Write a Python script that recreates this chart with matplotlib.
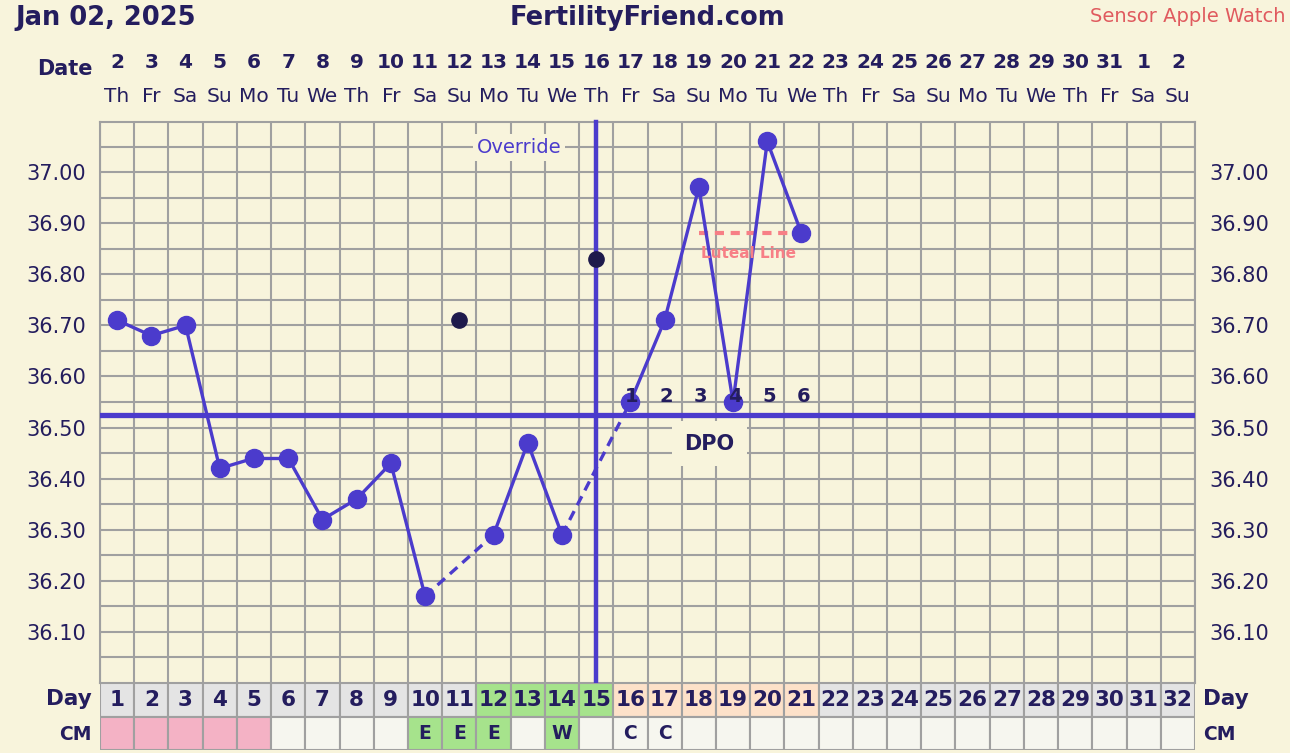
import matplotlib
matplotlib.use("Agg")
import matplotlib.pyplot as plt
from matplotlib.patches import Rectangle
import numpy as np

# ---- data ----
dates = ["2","3","4","5","6","7","8","9","10","11","12","13","14","15","16","17",
         "18","19","20","21","22","23","24","25","26","27","28","29","30","31","1","2"]
weekdays = ["Th","Fr","Sa","Su","Mo","Tu","We","Th","Fr","Sa","Su","Mo","Tu","We","Th","Fr",
            "Sa","Su","Mo","Tu","We","Th","Fr","Sa","Su","Mo","Tu","We","Th","Fr","Sa","Su"]
cycle_days = list(range(1, 33))
temp_days = [1, 2, 3, 4, 5, 6, 7, 8, 9, 10, 12, 13, 14, 16, 17, 18, 19, 20, 21]
temps = [36.71, 36.68, 36.70, 36.42, 36.44, 36.44, 36.32, 36.36, 36.43, 36.17,
         36.29, 36.47, 36.29, 36.55, 36.71, 36.97, 36.55, 37.06, 36.88]
excluded_days = [11, 15]
excluded_temps = [36.71, 36.83]
coverline = 36.525
ovulation_day = 15
luteal_days = [18, 21]
luteal_value = 36.88
dpo_days = [16, 17, 18, 19, 20, 21]
dpo_labels = ["1", "2", "3", "4", "5", "6"]
ytick_vals = [36.10, 36.20, 36.30, 36.40, 36.50, 36.60, 36.70, 36.80, 36.90, 37.00]
day_row_colors = (["#e4e4e4"] * 11 + ["#a6e38c"] * 4 + ["#fde1c9"] * 6 + ["#e4e4e4"] * 11)
cm_colors = (["#f4b2c5"] * 5 + ["#f6f6ef"] * 4 + ["#a6e38c"] * 3 + ["#f6f6ef"] + ["#a6e38c"]
             + ["#f6f6ef"] * 18)
cm_labels = {10: "E", 11: "E", 12: "E", 14: "W", 16: "C", 17: "C"}

# ---- style ----
BG = "#f8f4dc"
NAVY = "#241d5e"
PURPLE = "#4b3bcc"
GRID = "#a0a0a0"
PINK = "#f77f86"

W, H = 1290, 753
fig = plt.figure(figsize=(W / 100, H / 100), dpi=100, facecolor=BG)

def ax_rect(l, t, r, b):
    return [l / W, 1 - b / H, (r - l) / W, (b - t) / H]

ax = fig.add_axes(ax_rect(100, 122, 1195, 683))
ax.set_facecolor(BG)
ax.set_xlim(0.5, 32.5)
ax.set_ylim(36.0, 37.098)

# grid
for x in np.arange(0.5, 33.0, 1.0):
    ax.axvline(x, color=GRID, lw=1.5, zorder=1)
for y in np.arange(36.05, 37.10, 0.05):
    ax.axhline(y, color=GRID, lw=1.5, zorder=1)
for s in ax.spines.values():
    s.set_color(GRID)
    s.set_linewidth(1.5)

ax.set_xticks([])
ax.set_yticks(ytick_vals)
ax.set_yticklabels([f"{v:.2f}" for v in ytick_vals])
ax.tick_params(axis="y", length=0, labelsize=15, labelcolor=NAVY, pad=10,
               labelleft=True, labelright=True)

# coverline & ovulation line
ax.axhline(coverline, color=PURPLE, lw=3.8, zorder=3)
ax.plot([ovulation_day, ovulation_day], [35.985, 37.098], color=PURPLE, lw=3.2, zorder=3,
        clip_on=False)

# temperature line: solid for consecutive days, dashed over gaps
td = np.array(temp_days)
tt = np.array(temps)
for i in range(len(td) - 1):
    ls = "-" if td[i + 1] - td[i] == 1 else (0, (3, 2))
    ax.plot(td[i:i + 2], tt[i:i + 2], color=PURPLE, lw=2.4, ls=ls, zorder=4,
            solid_capstyle="round")
ax.plot(td, tt, "o", color=PURPLE, ms=13, zorder=5)
ax.plot(excluded_days, excluded_temps, "o", color="#1e1a4c", ms=11, zorder=5)

# luteal line
ax.plot(luteal_days, [luteal_value, luteal_value], color=PINK, lw=3, ls=(0, (2.2, 1.6)),
        zorder=3)
ax.text(np.mean(luteal_days) - 0.05, luteal_value - 0.04, "Luteal Line", color=PINK,
        fontsize=11, fontweight="bold", ha="center", va="center", zorder=6)

# DPO numbers
for d, lab in zip(dpo_days, dpo_labels):
    ax.text(d + 0.05, 36.56, lab, color=NAVY, fontsize=14, fontweight="bold",
            ha="center", va="center", zorder=6)
ax.text(18.3, 36.468, "DPO", color=NAVY, fontsize=15, fontweight="bold",
        ha="center", va="center", zorder=6,
        bbox=dict(boxstyle="square,pad=0.6", fc=BG, ec="none"))
ax.text(12.75, 37.048, "Override", color=PURPLE, fontsize=14,
        ha="center", va="center", zorder=6,
        bbox=dict(boxstyle="square,pad=0.2", fc=BG, ec="none"))

# header: dates and weekdays
for i, (d, wd) in enumerate(zip(dates, weekdays)):
    xf = (100 + 34.22 * (i + 0.5)) / W
    fig.text(xf, 1 - 62 / H, d, color=NAVY, fontsize=14.5, fontweight="bold",
             ha="center", va="center")
    fig.text(xf, 1 - 96 / H, wd, color=NAVY, fontsize=14.5, ha="center", va="center")
fig.text(65 / W, 1 - 69 / H, "Date", color=NAVY, fontsize=15, fontweight="bold",
         ha="center", va="center")

fig.text(15 / W, 1 - 18 / H, "Jan 02, 2025", color=NAVY, fontsize=18.5,
         fontweight="bold", ha="left", va="center")
fig.text(647 / W, 1 - 18 / H, "FertilityFriend.com", color=NAVY, fontsize=18.5,
         fontweight="bold", ha="center", va="center")
fig.text(1285 / W, 1 - 16 / H, "Sensor Apple Watch", color="#e05a5e", fontsize=14,
         ha="right", va="center")

# bottom table
tax = fig.add_axes(ax_rect(100, 683, 1195, 750))
tax.set_xlim(0.5, 32.5)
tax.set_ylim(0, 2)
tax.axis("off")
for i, day in enumerate(cycle_days):
    tax.add_patch(Rectangle((day - 0.5, 1), 1, 1, fc=day_row_colors[i], ec=GRID, lw=1.5))
    tax.add_patch(Rectangle((day - 0.5, 0), 1, 1, fc=cm_colors[i], ec=GRID, lw=1.5))
    tax.text(day, 1.5, str(day), color=NAVY, fontsize=15.5, fontweight="bold",
             ha="center", va="center")
    if day in cm_labels:
        tax.text(day, 0.5, cm_labels[day], color=NAVY, fontsize=13.5, fontweight="bold",
                 ha="center", va="center")
fig.text(92 / W, 1 - 699 / H, "Day", color=NAVY, fontsize=15.5, fontweight="bold",
         ha="right", va="center")
fig.text(1203 / W, 1 - 699 / H, "Day", color=NAVY, fontsize=15.5, fontweight="bold",
         ha="left", va="center")
fig.text(92 / W, 1 - 735 / H, "CM", color=NAVY, fontsize=13.5, fontweight="bold",
         ha="right", va="center")
fig.text(1203 / W, 1 - 735 / H, "CM", color=NAVY, fontsize=13.5, fontweight="bold",
         ha="left", va="center")

fig.savefig("out.png", dpi=100, facecolor=BG)
